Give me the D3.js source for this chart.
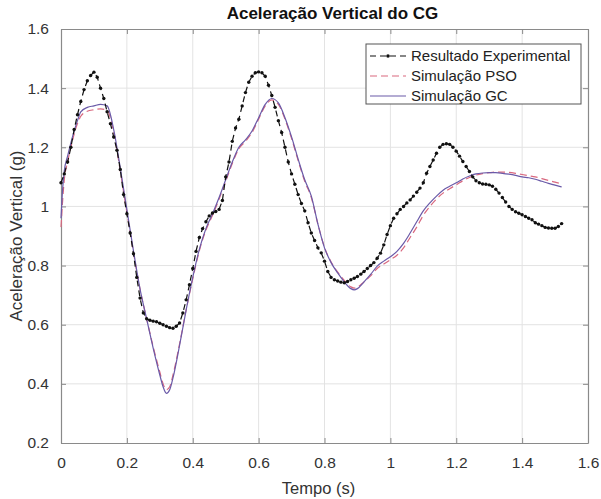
<!DOCTYPE html>
<html><head><meta charset="utf-8">
<script src="https://cdn.jsdelivr.net/npm/d3@7"></script>
<style>body{margin:0;background:#fff}svg{display:block;font-family:"Liberation Sans",Arial,sans-serif}</style>
</head><body><div id="chart"></div>
<script>
const title = "Aceleração Vertical do CG";
const xLabel = "Tempo (s)";
const yLabel = "Aceleração Vertical (g)";
const xTicks = [0,0.2,0.4,0.6,0.8,1,1.2,1.4,1.6];
const yTicks = [0.2,0.4,0.6,0.8,1,1.2,1.4,1.6];
const seriesNames = ["Resultado Experimental","Simulação PSO","Simulação GC"];

// experimental, sampled every 0.01 s from 0 to 1.52
const expStep = 0.01;
const expValues = [
1.08,1.11,1.15,1.20,1.26,1.31,1.355,1.395,1.425,1.443,
1.454,1.437,1.40,1.365,1.32,1.28,1.235,1.19,1.125,1.04,
0.975,0.91,0.84,0.76,0.69,0.64,0.62,0.615,0.612,0.61,
0.605,0.60,0.595,0.59,0.588,0.595,0.606,0.64,0.684,0.735,
0.79,0.848,0.895,0.925,0.948,0.968,0.978,0.983,0.99,1.02,
1.10,1.15,1.22,1.265,1.295,1.34,1.385,1.42,1.44,1.452,
1.455,1.452,1.44,1.41,1.375,1.335,1.29,1.25,1.20,1.15,
1.11,1.075,1.04,1.01,0.985,0.945,0.91,0.885,0.86,0.843,
0.815,0.78,0.76,0.752,0.748,0.744,0.742,0.746,0.752,0.757,
0.763,0.771,0.78,0.79,0.80,0.81,0.825,0.842,0.87,0.905,
0.935,0.96,0.975,0.99,1.0,1.012,1.022,1.035,1.048,1.062,
1.08,1.112,1.135,1.157,1.18,1.20,1.21,1.212,1.21,1.20,
1.187,1.17,1.152,1.135,1.118,1.10,1.087,1.08,1.076,1.075,
1.073,1.068,1.058,1.045,1.03,1.015,1.0,0.99,0.982,0.977,
0.972,0.966,0.96,0.955,0.945,0.94,0.935,0.929,0.927,0.926,
0.926,0.932,0.942];

const simTime = [0,0.005,0.01,0.02,0.03,0.04,0.05,0.06,0.08,0.10,0.12,0.14,0.16,0.18,0.20,0.22,0.24,0.26,0.28,0.30,0.31,0.32,0.33,0.34,0.36,0.38,0.40,0.42,0.44,0.46,0.48,0.50,0.52,0.54,0.56,0.58,0.60,0.62,0.64,0.66,0.68,0.70,0.72,0.74,0.76,0.78,0.80,0.82,0.84,0.86,0.88,0.89,0.90,0.92,0.94,0.96,0.98,1.00,1.02,1.04,1.06,1.08,1.10,1.12,1.14,1.16,1.18,1.20,1.22,1.24,1.26,1.28,1.30,1.32,1.34,1.36,1.38,1.40,1.42,1.44,1.46,1.48,1.50,1.52];
const gcValues = [0.96,1.06,1.12,1.17,1.215,1.255,1.29,1.32,1.335,1.34,1.345,1.34,1.26,1.13,0.99,0.85,0.72,0.62,0.52,0.43,0.39,0.368,0.38,0.42,0.53,0.65,0.76,0.855,0.925,0.975,1.03,1.09,1.15,1.20,1.225,1.255,1.30,1.345,1.365,1.35,1.30,1.235,1.16,1.09,1.035,0.94,0.86,0.81,0.775,0.745,0.722,0.718,0.722,0.745,0.77,0.798,0.815,0.83,0.848,0.875,0.91,0.948,0.985,1.012,1.035,1.055,1.068,1.08,1.093,1.103,1.11,1.113,1.114,1.114,1.112,1.109,1.105,1.10,1.097,1.092,1.085,1.078,1.072,1.066];
const psoValues = [0.93,1.02,1.09,1.15,1.20,1.245,1.28,1.305,1.322,1.327,1.33,1.325,1.25,1.12,0.98,0.845,0.72,0.62,0.525,0.44,0.40,0.38,0.39,0.43,0.535,0.65,0.755,0.85,0.92,0.97,1.025,1.085,1.145,1.195,1.22,1.25,1.295,1.34,1.36,1.345,1.295,1.23,1.155,1.085,1.03,0.94,0.862,0.812,0.778,0.75,0.728,0.724,0.727,0.745,0.765,0.79,0.805,0.82,0.835,0.86,0.895,0.93,0.97,1.0,1.025,1.045,1.06,1.073,1.087,1.098,1.106,1.111,1.114,1.116,1.116,1.115,1.112,1.108,1.104,1.10,1.094,1.088,1.082,1.077];

const W = 601, H = 499;
const m = {left:61, right:13, top:29, bottom:56};
const iw = W - m.left - m.right, ih = H - m.top - m.bottom;

const svg = d3.select("#chart").append("svg").attr("width",W).attr("height",H);
svg.append("rect").attr("width",W).attr("height",H).attr("fill","#fff");
const g = svg.append("g").attr("transform",`translate(${m.left},${m.top})`);

const x = d3.scaleLinear().domain([0,1.6]).range([0,iw]);
const y = d3.scaleLinear().domain([0.2,1.6]).range([ih,0]);

// grid
g.append("g").selectAll("line").data(xTicks.slice(1,-1)).join("line")
  .attr("x1",d=>x(d)).attr("x2",d=>x(d)).attr("y1",0).attr("y2",ih)
  .attr("stroke","#e3e3e3").attr("stroke-width",1);
g.append("g").selectAll("line").data(yTicks.slice(1,-1)).join("line")
  .attr("y1",d=>y(d)).attr("y2",d=>y(d)).attr("x1",0).attr("x2",iw)
  .attr("stroke","#e3e3e3").attr("stroke-width",1);

// axes (MATLAB-like, inward ticks)
const fmt = d => String(d);
const axB = g.append("g").attr("transform",`translate(0,${ih})`)
  .call(d3.axisBottom(x).tickValues(xTicks).tickFormat(fmt).tickSizeInner(-5).tickSizeOuter(0).tickPadding(14));
const axL = g.append("g")
  .call(d3.axisLeft(y).tickValues(yTicks).tickFormat(fmt).tickSizeInner(-5).tickSizeOuter(0).tickPadding(12));
const axT = g.append("g")
  .call(d3.axisTop(x).tickValues(xTicks).tickFormat("").tickSizeInner(-5).tickSizeOuter(0));
const axR = g.append("g").attr("transform",`translate(${iw},0)`)
  .call(d3.axisRight(y).tickValues(yTicks).tickFormat("").tickSizeInner(-5).tickSizeOuter(0));
[axB,axL,axT,axR].forEach(a=>{
  a.select(".domain").attr("stroke","#8a8a8a").attr("stroke-width",1.2);
  a.selectAll(".tick line").attr("stroke","#8a8a8a");
  a.selectAll("text").attr("font-size",15.5).attr("fill","#333").attr("font-family","Liberation Sans, Arial, sans-serif");
});

const expData = expValues.map((v,i)=>({t:+(i*expStep).toFixed(2), v}));
const gcData = simTime.map((t,i)=>({t, v:gcValues[i]}));
const psoData = simTime.map((t,i)=>({t, v:psoValues[i]}));

const lineCurve = d3.line().x(d=>x(d.t)).y(d=>y(d.v)).curve(d3.curveMonotoneX);
const lineLin = d3.line().x(d=>x(d.t)).y(d=>y(d.v));

const cPSO = "#d9687f", cGC = "#6a5aa8", cExp = "#111";

g.append("path").datum(psoData).attr("d",lineCurve).attr("fill","none")
  .attr("stroke",cPSO).attr("stroke-width",1.2).attr("stroke-dasharray","7,4");
g.append("path").datum(gcData).attr("d",lineCurve).attr("fill","none")
  .attr("stroke",cGC).attr("stroke-width",1.2);
g.append("path").datum(expData).attr("d",lineLin).attr("fill","none")
  .attr("stroke",cExp).attr("stroke-width",1.2).attr("stroke-dasharray","6,4");
g.append("g").selectAll("circle").data(expData).join("circle")
  .attr("cx",d=>x(d.t)).attr("cy",d=>y(d.v)).attr("r",1.7).attr("fill",cExp);

// title and labels
svg.append("text").attr("x", m.left + iw/2 + 8).attr("y",19).attr("text-anchor","middle")
  .attr("font-size",17).attr("font-weight","bold").attr("fill","#111").text(title);
svg.append("text").attr("x", m.left + iw/2 - 6).attr("y",494).attr("text-anchor","middle")
  .attr("font-size",16.5).attr("fill","#333").text(xLabel);
svg.append("text").attr("transform",`translate(22,${m.top+ih/2}) rotate(-90)`).attr("text-anchor","middle")
  .attr("font-size",17).attr("fill","#333").text(yLabel);

// legend
const lg = svg.append("g").attr("transform","translate(366,44)");
lg.append("rect").attr("width",215).attr("height",60).attr("fill","#fff").attr("stroke","#555").attr("stroke-width",1);
const rows = [
  {name:seriesNames[0], color:cExp, dash:"6,4", dot:true},
  {name:seriesNames[1], color:cPSO, dash:"7,4", dot:false},
  {name:seriesNames[2], color:cGC, dash:null, dot:false}
];
rows.forEach((r,i)=>{
  const yy = 12 + i*20;
  const l = lg.append("line").attr("x1",4).attr("x2",40).attr("y1",yy).attr("y2",yy)
    .attr("stroke",r.color).attr("stroke-width",1.2);
  if(r.dash) l.attr("stroke-dasharray",r.dash);
  if(r.dot) lg.append("circle").attr("cx",22).attr("cy",yy).attr("r",1.8).attr("fill",r.color);
  lg.append("text").attr("x",45).attr("y",yy+5).attr("font-size",15).attr("fill","#222").text(r.name);
});
</script></body></html>
